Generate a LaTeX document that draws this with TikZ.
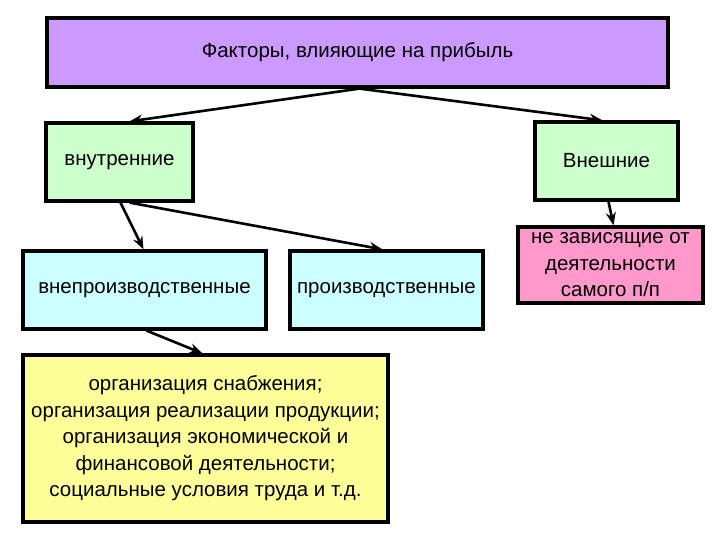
\documentclass[tikz,border=0pt]{standalone}
\usepackage{fontspec}
\setmainfont{Liberation Sans}
\usepackage{tikz}
\usetikzlibrary{arrows.meta,positioning,calc}
\usepackage{xcolor}
\definecolor{lilac}{HTML}{CC99FF}
\definecolor{mint}{HTML}{CCFFCC}
\definecolor{aqua}{HTML}{CCFFFF}
\definecolor{rose}{HTML}{FF99CC}
\definecolor{lemon}{HTML}{FFFF99}

\begin{document}
\begin{tikzpicture}[
    x=1pt, y=-1pt,
    box/.style={draw, rectangle, line width=3.2pt, align=center, inner sep=0pt, font=\fontsize{20.5}{26.5}\selectfont},
    head/.style={box, fill=lilac, minimum width=621pt, minimum height=69pt},
    kind/.style={box, fill=mint, minimum width=145pt, minimum height=78pt},
    sphere/.style={box, fill=aqua, minimum height=78pt},
    outside/.style={box, fill=rose, minimum width=185pt, minimum height=76pt},
    detail/.style={box, fill=lemon, minimum width=365pt, minimum height=167pt},
    arrow/.style={-{Stealth[length=13pt, width=10pt]}, line width=2.6pt}
  ]
    \useasboundingbox (0,0) rectangle (720,540);

    \node (factors) [head] at (357.5,52.5) {Факторы, влияющие на прибыль};

    \node (inner) [kind, minimum width=147pt] at (119.5,162) {внутренние};
    \node (outer) [kind, minimum width=143pt] at (606.5,161) {Внешние};

    \node (nonprod) [sphere, minimum width=243pt] at (144.5,290) {внепроизводственные};
    \node (prod) [sphere, minimum width=193pt] at (386.5,290) {производственные};
    \node (indep) [outside] at (610.5,265) {не зависящие от\\деятельности\\самого п/п};

    \node (tasks) [detail] at (205.5,438.5) {организация снабжения;\\организация реализации продукции;\\организация экономической и\\финансовой деятельности;\\социальные условия труда и т.д.};

    \draw [arrow] ([xshift=2pt]factors.south) -- ([xshift=10pt]inner.north);
    \draw [arrow] ([xshift=2pt]factors.south) -- ([xshift=-4pt]outer.north);
    \draw [arrow] ([xshift=1pt]inner.south) -- ([xshift=-1pt]nonprod.north);
    \draw [arrow] ([xshift=10pt]inner.south) -- ([xshift=-4pt]prod.north);
    \draw [arrow] ([xshift=2pt]outer.south) -- ([xshift=3pt]indep.north);
    \draw [arrow] ([xshift=2pt]nonprod.south) -- ([xshift=-3pt]tasks.north);
  \end{tikzpicture}
\end{document}
